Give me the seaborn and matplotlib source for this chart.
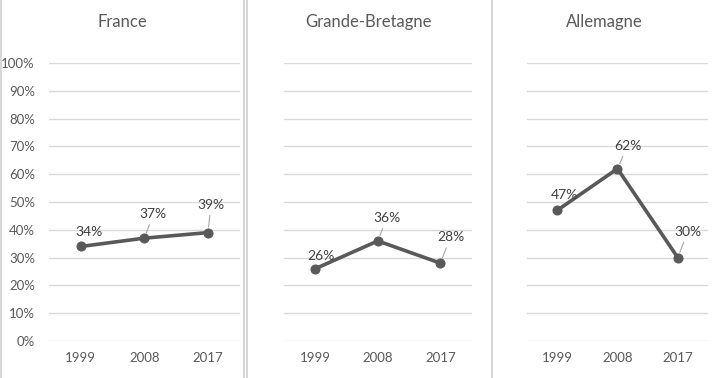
import matplotlib
matplotlib.use("Agg")
import matplotlib.pyplot as plt
from matplotlib.lines import Line2D
import seaborn as sns
import pandas as pd

# values
years = ["1999", "2008", "2017"]
countries = ["France", "Grande-Bretagne", "Allemagne"]
france = [0.34, 0.37, 0.39]
grande_bretagne = [0.26, 0.36, 0.28]
allemagne = [0.47, 0.62, 0.30]
y_ticks = [0, 0.1, 0.2, 0.3, 0.4, 0.5, 0.6, 0.7, 0.8, 0.9, 1.0]

series = [france, grande_bretagne, allemagne]

sns.set_style("white")
plt.rcParams["font.family"] = ["Lato", "DejaVu Sans"]

fig = plt.figure(figsize=(7.18, 3.78), dpi=100)

# panel positions (figure fractions)
boxes = [(0.068, 0.098, 0.266, 0.735),
         (0.3955, 0.098, 0.2615, 0.735),
         (0.734, 0.098, 0.252, 0.735)]
title_x = [0.170, 0.513, 0.842]

# label offsets in pixels (dx, dy) and whether a leader line is drawn
offsets = [
    [(8, 14, False), (9, 24, True), (3, 28, True)],
    [(6, 13, False), (9, 23, True), (10, 26, True)],
    [(7, 15, False), (10, 23, True), (10, 26, True)],
]

grey = "#595959"
for k, (name, vals) in enumerate(zip(countries, series)):
    ax = fig.add_axes(boxes[k])
    df = pd.DataFrame({"annee": years, "part": vals})
    sns.lineplot(data=df, x="annee", y="part", ax=ax, color=grey,
                 linewidth=2.6, marker="o", markersize=6.5,
                 markeredgecolor=grey, sort=False)
    ax.set_xlim(-0.5, 2.5)
    ax.set_ylim(0, 1.0)
    ax.set_yticks(y_ticks)
    ax.yaxis.grid(True, color="#d9d9d9", linewidth=1)
    ax.set_axisbelow(True)
    for s in ax.spines.values():
        s.set_visible(False)
    ax.set_xlabel("")
    ax.set_ylabel("")
    ax.tick_params(axis="x", length=0, pad=8, labelsize=9.5, labelcolor=grey)
    if k == 0:
        ax.set_yticklabels([f"{int(round(t * 100))}%" for t in y_ticks])
        ax.tick_params(axis="y", length=0, pad=10, labelsize=9.5, labelcolor=grey)
    else:
        ax.tick_params(axis="y", length=0, labelleft=False)
    for i, v in enumerate(vals):
        dx, dy, lead = offsets[k][i]
        arrow = dict(arrowstyle="-", color="#a6a6a6", lw=0.8,
                     shrinkA=1, shrinkB=4) if lead else None
        ax.annotate(f"{int(round(v * 100))}%", xy=(i, v), xytext=(dx, dy),
                    textcoords="offset pixels", ha="center", va="center",
                    fontsize=10, color="#404040", arrowprops=arrow)
    fig.text(title_x[k], 0.942, name, ha="center", va="center",
             fontsize=12, color=grey)

# panel separators
for x in [0.002, 0.340, 0.344, 0.685]:
    fig.add_artist(Line2D([x, x], [0, 1], transform=fig.transFigure,
                          color="#d0d0d0", linewidth=1.2))

fig.savefig("out.png", dpi=100)
